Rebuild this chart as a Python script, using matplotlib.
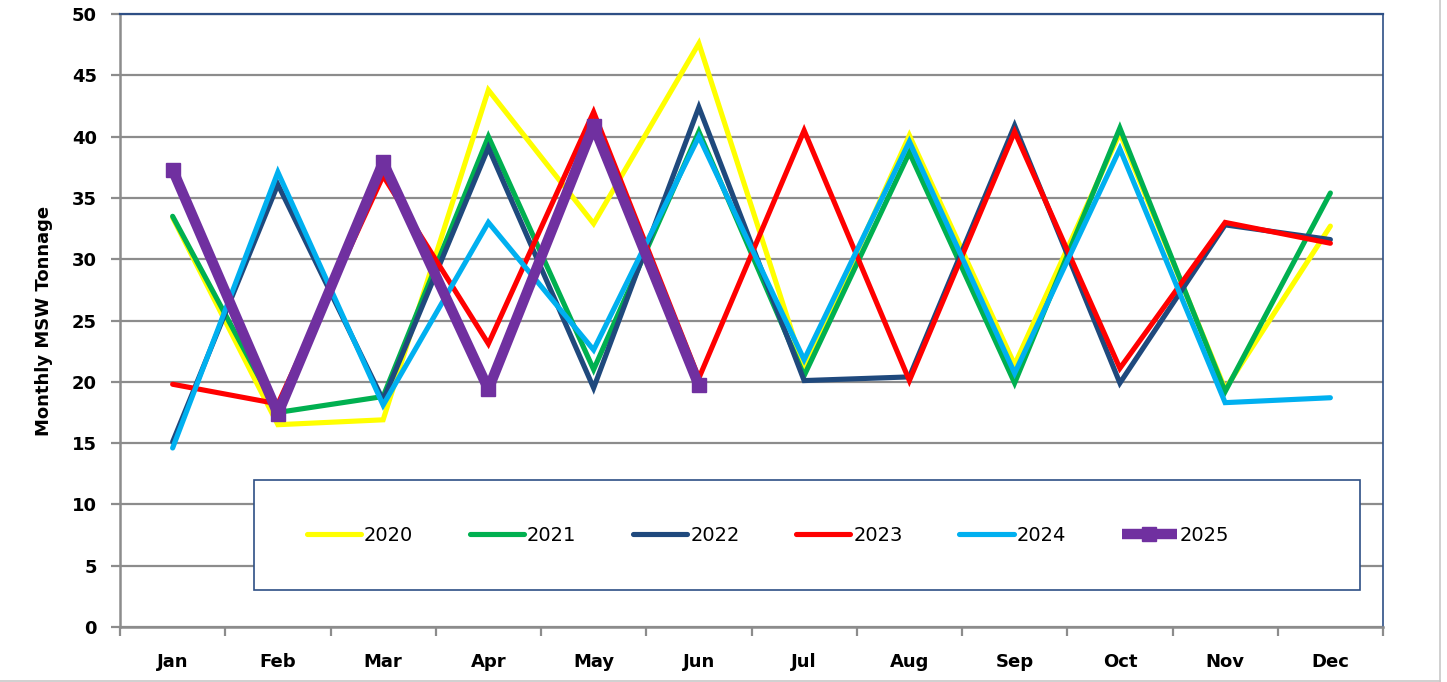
"""Monthly MSW tonnage by year, 2020-2025."""
import matplotlib
matplotlib.use("Agg")
import matplotlib.pyplot as plt
from matplotlib.patches import Rectangle
from matplotlib.lines import Line2D

# ── Data ─────────────────────────────────────────────────────────────────────
MONTHS = ["Jan", "Feb", "Mar", "Apr", "May", "Jun",
          "Jul", "Aug", "Sep", "Oct", "Nov", "Dec"]
Y2020 = [33.4, 16.5, 16.9, 43.8, 32.9, 47.6, 21.0, 40.1, 21.4, 40.3, 19.4, 32.7]
Y2021 = [33.5, 17.5, 18.8, 40.0, 21.0, 40.4, 20.5, 38.7, 19.9, 40.7, 19.2, 35.4]
Y2022 = [15.1, 36.1, 18.5, 39.1, 19.5, 42.4, 20.1, 20.4, 40.9, 19.9, 32.8, 31.6]
Y2023 = [19.8, 18.2, 36.8, 23.1, 42.0, 20.3, 40.5, 20.1, 40.4, 21.1, 33.0, 31.3]
Y2024 = [14.6, 37.1, 18.1, 33.0, 22.6, 40.0, 21.8, 39.6, 20.7, 39.0, 18.3, 18.7]
Y2025 = [37.3, 17.4, 37.9, 19.4, 40.9, 19.7]

SERIES = [("2020", Y2020, "#FFFF00"),
          ("2021", Y2021, "#00B050"),
          ("2022", Y2022, "#1F497D"),
          ("2023", Y2023, "#FF0000"),
          ("2024", Y2024, "#00B0F0")]

NAVY = "#2E4F85"
GRID = "#8C8C8C"

fig = plt.figure(figsize=(14.47, 6.82), dpi=100)
ax = fig.add_axes([120 / 1447, 55 / 682, 1263 / 1447, 613 / 682])

x = list(range(len(MONTHS)))
for name, vals, col in SERIES:
    ax.plot(x[:len(vals)], vals, color=col, linewidth=3.7,
            solid_capstyle="round", solid_joinstyle="miter", label=name, zorder=3)
ax.plot(x[:len(Y2025)], Y2025, color="#7030A0", linewidth=7.5, marker="s",
        markersize=10, solid_joinstyle="round", solid_capstyle="butt",
        label="2025", zorder=4)

# ── Axes styling ─────────────────────────────────────────────────────────────
ax.set_xlim(-0.5, 11.5)
ax.set_ylim(0, 50)
ax.set_yticks(range(0, 51, 5))
ax.yaxis.grid(True, color=GRID, linewidth=1.6, zorder=0)
ax.set_axisbelow(True)

ax.set_xticks(x)
ax.set_xticklabels(MONTHS, fontweight="bold", fontsize=13)
ax.set_xticks([i - 0.5 for i in range(13)], minor=True)
ax.tick_params(axis="x", which="major", length=0, pad=19)
ax.tick_params(axis="x", which="minor", length=6.5, width=1.6, color=GRID,
               direction="out")
ax.tick_params(axis="y", length=6.5, width=1.6, color=GRID, pad=10,
               labelsize=13)
for lab in ax.get_yticklabels():
    lab.set_fontweight("bold")

ax.spines["left"].set_color(GRID)
ax.spines["left"].set_linewidth(1.8)
ax.spines["bottom"].set_color(GRID)
ax.spines["bottom"].set_linewidth(1.8)
ax.spines["top"].set_color(NAVY)
ax.spines["top"].set_linewidth(1.6)
ax.spines["right"].set_color(NAVY)
ax.spines["right"].set_linewidth(1.2)

ax.set_ylabel("Monthly MSW Tonnage", fontweight="bold", fontsize=13, labelpad=14)

# legend box (white, navy edge) with the entries inside it
box = Rectangle((0.106, 0.060), 0.876, 0.180, transform=ax.transAxes,
                facecolor="white", edgecolor=NAVY, linewidth=1.2, zorder=5)
ax.add_patch(box)
leg = ax.legend(loc="center", bbox_to_anchor=(0.513, 0.150),
                ncol=6, fontsize=14, frameon=False, numpoints=1,
                handlelength=2.8, handletextpad=0.15, columnspacing=2.9,
                borderaxespad=0)
leg.set_zorder(6)

# thin frame lines on the right and bottom of the picture
fig.add_artist(Line2D([0.9955, 0.9955], [0.0, 1.0], transform=fig.transFigure,
                      color="#C8C8C8", linewidth=1.2))
fig.add_artist(Line2D([0.0, 0.9955], [0.002, 0.002], transform=fig.transFigure,
                      color="#C8C8C8", linewidth=1.2))

fig.savefig("out.png", dpi=100)
